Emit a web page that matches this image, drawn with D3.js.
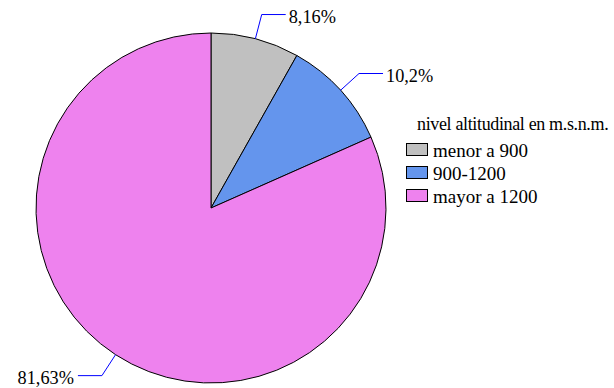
<!DOCTYPE html>
<html><head><meta charset="utf-8">
<script src="https://cdn.jsdelivr.net/npm/d3@7"></script>
<style>body{margin:0;background:#fff}svg{display:block}</style>
</head><body><svg id="c" width="614" height="388"></svg>
<script>
const categories = ["menor a 900", "900-1200", "mayor a 1200"];
const values = [8.16, 10.2, 81.63];
const labels = ["8,16%", "10,2%", "81,63%"];
const colors = ["#c0c0c0", "#6495ed", "#ee82ee"];
const legendTitle = "nivel altitudinal en m.s.n.m.";

const FONT = "'Liberation Serif'";
const svg = d3.select("#c");
const cx = 211, cy = 208, R = 175, R2 = 200;
const pie = d3.pie().sort(null).value(d => d)(values);
const arc = d3.arc().innerRadius(0).outerRadius(R);
const g = svg.append("g").attr("transform", `translate(${cx},${cy})`);
g.selectAll("path").data(pie).join("path")
  .attr("d", arc).attr("fill", (d, i) => colors[i])
  .attr("stroke", "#000").attr("stroke-width", 1);

pie.forEach((d, i) => {
  const a = (d.startAngle + d.endAngle) / 2;
  const p1 = [R * Math.sin(a), -R * Math.cos(a)];
  const p2 = [R2 * Math.sin(a), -R2 * Math.cos(a)];
  const right = Math.sin(a) >= 0;
  const p3 = [p2[0] + (right ? 24 : -24), p2[1]];
  g.append("polyline").attr("points", [p1, p2, p3].map(p => p.join(",")).join(" "))
    .attr("fill", "none").attr("stroke", "#0000ff").attr("stroke-width", 1);
  g.append("text").attr("x", p3[0] + (right ? 3 : -4)).attr("y", p3[1] + 8)
    .attr("text-anchor", right ? "start" : "end")
    .style("font-family", FONT).style("font-size", "18.3px").text(labels[i]);
});

const lg = svg.append("g").attr("transform", "translate(406,130)");
lg.append("text").attr("x", 11).attr("y", 0).style("font-family", FONT).style("font-size", "18px")
  .style("letter-spacing", "-0.35px").text(legendTitle);
categories.forEach((c, i) => {
  const y = 13 + i * 23;
  lg.append("rect").attr("x", 0.5).attr("y", y + 0.5).attr("width", 21).attr("height", 12)
    .attr("fill", colors[i]).attr("stroke", "#000");
  lg.append("text").attr("x", 27).attr("y", y + 14).style("font-family", FONT).style("font-size", "19px").text(c);
});
</script></body></html>
